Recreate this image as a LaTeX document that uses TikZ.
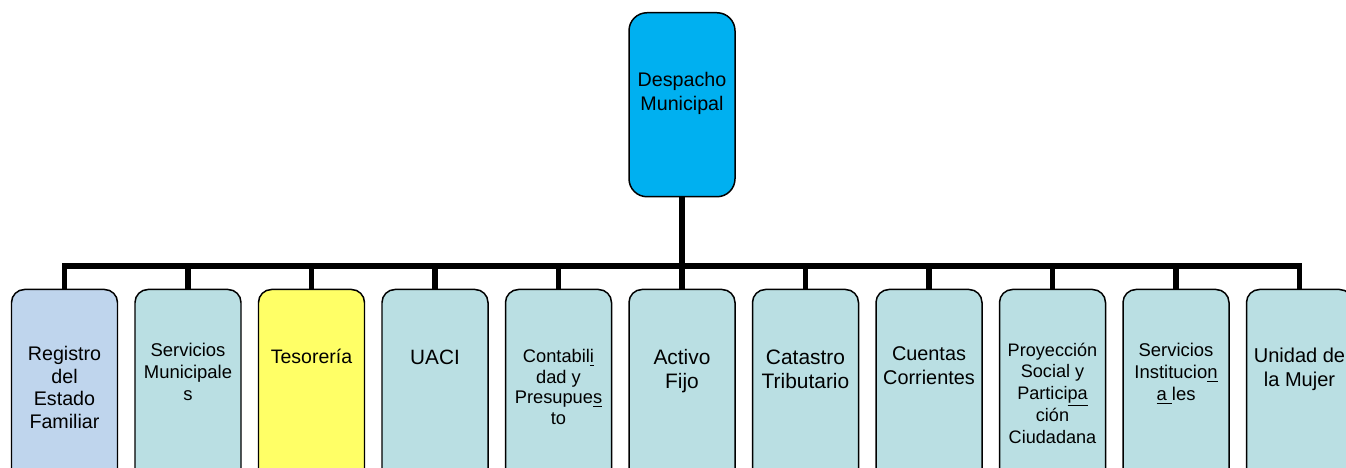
\documentclass[tikz,border=0pt]{standalone}
\usepackage{fontspec}
\setmainfont{Liberation Sans}
\usepackage{tikz}
\usepackage{xcolor}

\definecolor{despblue}{RGB}{0,176,240}
\definecolor{regblue}{RGB}{191,213,237}
\definecolor{unitteal}{RGB}{186,223,227}
\definecolor{tesyellow}{RGB}{255,255,102}

\newcommand{\unitxt}[1]{\begin{tabular}[t]{@{}c@{}}#1\end{tabular}}
\newcommand{\fsz}[2]{\fontsize{#1}{#2}\selectfont}

\tikzset{
  despacho/.style={draw, line width=0.85pt, fill=despblue, rounded corners=0.36cm,
    anchor=north, minimum width=2.12cm, inner sep=0pt,
    text height=1.48cm, text depth=2.2cm},
  unit/.style={draw, line width=0.85pt, fill=unitteal, rounded corners=0.26cm,
    anchor=north, minimum width=2.12cm, inner sep=0pt,
    text height=1.46cm, text depth=2.5cm}
}

\begin{document}
\begin{tikzpicture}[level distance=3.68cm,
                    sibling distance=2.47cm,
                    edge from parent/.style={draw, line width=3.1pt},
                    edge from parent path={(\tikzparentnode.south) -- ++(0,-1.37) -| (\tikzchildnode.north)}]
                    \useasboundingbox (0,0) rectangle (26.92,-9.36);
                    \node[despacho, font=\fsz{11.2}{13.7}] (desp) at (13.64,-0.24) {\unitxt{Despacho\\Municipal}}
                        child {node[unit, fill=regblue, font=\fsz{11.2}{12.9}, text height=1.42cm] (reg) {\unitxt{Registro\\del\\Estado\\Familiar}}}
                        child {node[unit, font=\fsz{10.5}{12.5}, text height=1.34cm] (servmun) {\unitxt{Servicios\\Municipale\\s}}}
                        child {node[unit, fill=tesyellow, font=\fsz{11.1}{13}, text height=1.48cm] (tes) {\unitxt{Tesorería}}}
                        child {node[unit, font=\fsz{11.8}{13.7}, text height=1.5cm] (uaci) {\unitxt{UACI}}}
                        child {node[unit, font=\fsz{10.4}{11.8}, text height=1.46cm] (conta) {\unitxt{Contabil\underline{i}\\dad y\\Presupue\underline{s}\\to}}}
                        child {node[unit, font=\fsz{11.9}{13.7}, text height=1.5cm] (activo) {\unitxt{Activo\\Fijo}}}
                        child {node[unit, font=\fsz{11.9}{13.7}, text height=1.5cm] (catastro) {\unitxt{Catastro\\Tributario}}}
                        child {node[unit, font=\fsz{11.3}{13.7}, text height=1.42cm] (cuentas) {\unitxt{Cuentas\\Corrientes}}}
                        child {node[unit, font=\fsz{10.3}{12.2}, text height=1.34cm] (proy) {\unitxt{Proyección\\Social y\\Partici\underline{pa}\\ción\\Ciudadana}}}
                        child {node[unit, font=\fsz{10.5}{12.5}, text height=1.34cm] (servinst) {\unitxt{Servicios\\Institucio\underline{n}\\\underline{a }les}}}
                        child {node[unit, font=\fsz{11.4}{13.7}, text height=1.46cm] (mujer) {\unitxt{Unidad de\\la Mujer}}}
                    ;
\end{tikzpicture}
\end{document}
